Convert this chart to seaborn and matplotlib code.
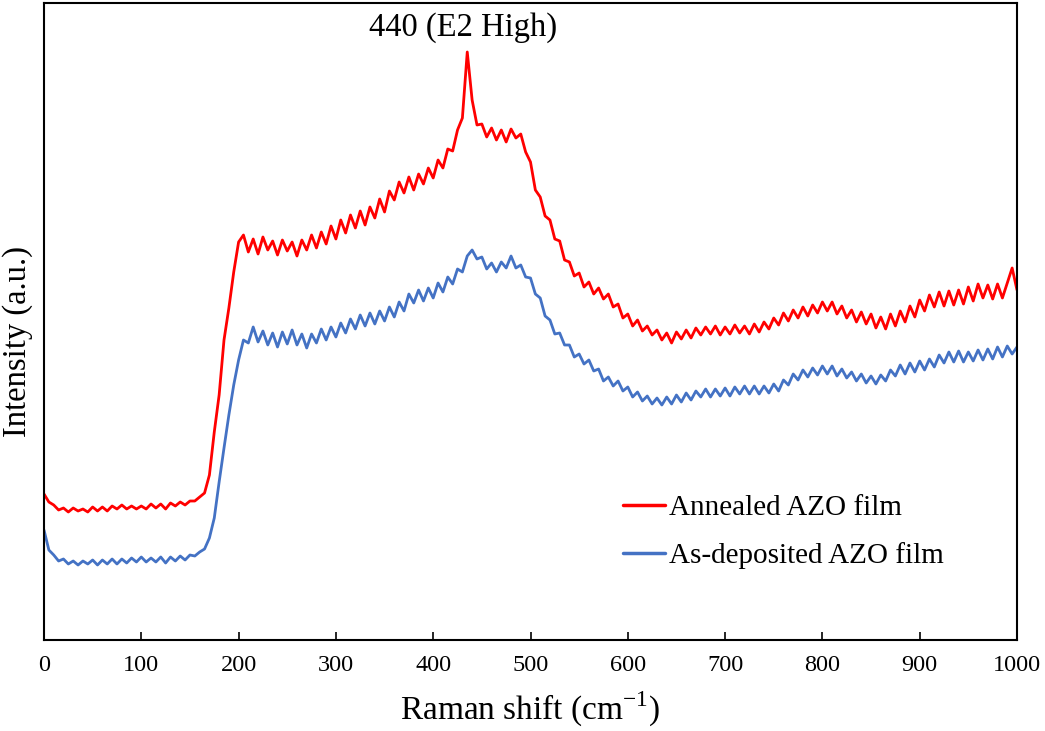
import numpy as np
import pandas as pd
import matplotlib
matplotlib.use("Agg")
import matplotlib.pyplot as plt
import seaborn as sns

# Raman shift (cm^-1), step 5
raman_shift = list(range(0, 1001, 5))

annealed = [
    146, 138, 135, 130, 132, 128, 132, 129, 131, 128, 133, 129, 133, 129, 134, 131, 135, 131, 134, 131,
    134, 131, 136, 132, 136, 131, 137, 134, 138, 135, 139, 139, 143, 147, 165, 208, 245, 300, 332, 368,
    398, 405, 388, 401, 386, 403, 390, 399, 385, 400, 389, 398, 384, 400, 390, 405, 392, 408, 396, 414,
    401, 420, 407, 425, 412, 429, 415, 433, 422, 441, 428, 449, 440, 458, 447, 463, 450, 466, 456, 472,
    462, 480, 472, 491, 489, 510, 522, 588, 540, 515, 516, 503, 512, 500, 510, 498, 511, 502, 506, 488,
    478, 450, 443, 424, 420, 401, 399, 380, 378, 364, 367, 353, 358, 346, 352, 341, 346, 333, 336, 322,
    326, 314, 320, 309, 314, 305, 310, 300, 307, 297, 308, 301, 310, 302, 312, 305, 313, 306, 314, 305,
    313, 306, 315, 307, 314, 306, 316, 308, 318, 311, 322, 315, 327, 319, 330, 322, 333, 324, 335, 327,
    338, 329, 338, 326, 334, 322, 330, 318, 328, 316, 326, 312, 323, 311, 326, 314, 329, 318, 334, 323,
    340, 329, 345, 333, 348, 334, 349, 335, 350, 336, 353, 339, 356, 342, 355, 341, 356, 342, 357, 372,
    350,
]

as_deposited = [
    110, 90, 85, 79, 81, 76, 79, 75, 79, 76, 80, 75, 80, 76, 81, 76, 81, 77, 82, 78,
    83, 78, 82, 78, 83, 77, 83, 79, 84, 80, 85, 84, 88, 91, 102, 122, 158, 192, 225, 255,
    280, 300, 297, 313, 298, 309, 295, 307, 293, 308, 296, 310, 295, 306, 292, 306, 297, 311, 300, 313,
    303, 317, 307, 321, 311, 325, 314, 327, 316, 329, 319, 333, 323, 338, 329, 346, 337, 350, 339, 352,
    342, 357, 348, 363, 356, 371, 368, 384, 390, 381, 383, 371, 377, 368, 378, 372, 384, 372, 375, 363,
    362, 346, 342, 324, 320, 306, 307, 295, 295, 283, 286, 276, 280, 269, 271, 259, 263, 254, 259, 249,
    253, 243, 248, 239, 244, 236, 242, 235, 243, 236, 245, 238, 247, 240, 249, 243, 251, 243, 251, 244,
    252, 244, 253, 246, 254, 246, 254, 246, 254, 247, 256, 249, 260, 255, 266, 260, 270, 263, 272, 265,
    274, 266, 274, 264, 271, 262, 268, 259, 266, 257, 264, 256, 265, 259, 270, 264, 275, 266, 277, 268,
    279, 270, 281, 273, 285, 277, 288, 278, 289, 278, 288, 279, 290, 280, 291, 281, 293, 283, 294, 286,
    293,
]

series_names = ["Annealed AZO film", "As-deposited AZO film"]
series_colors = ["#FF0000", "#4472C4"]

df = pd.concat([
    pd.DataFrame({"shift": raman_shift, "intensity": annealed, "series": series_names[0]}),
    pd.DataFrame({"shift": raman_shift, "intensity": as_deposited, "series": series_names[1]}),
], ignore_index=True)

sns.set_theme(style="white")
plt.rcParams["font.family"] = ["Liberation Serif", "DejaVu Serif"]
plt.rcParams["mathtext.fontset"] = "custom"
plt.rcParams["mathtext.rm"] = "Liberation Serif"
plt.rcParams["text.color"] = "black"
plt.rcParams["axes.labelcolor"] = "black"

fig = plt.figure(figsize=(10.45, 7.31), dpi=100)
ax = fig.add_axes([44 / 1045, 1 - 640 / 731, (1017 - 44) / 1045, (640 - 3) / 731])

sns.lineplot(data=df, x="shift", y="intensity", hue="series",
             palette=dict(zip(series_names, series_colors)),
             linewidth=2.0, ax=ax, sort=False, estimator=None)

ax.set_xlim(0, 1000)
ax.set_ylim(0, 637)
ax.set_xticks(range(0, 1001, 100))
ax.set_yticks([])
ax.tick_params(axis="x", direction="in", length=6, width=1.2, labelsize=17.5,
               pad=11, bottom=True, colors="black", labelcolor="black")
for sp in ax.spines.values():
    sp.set_color("black")
    sp.set_linewidth(1.5)

ax.set_xlabel(r"Raman shift (cm$^{\mathregular{-1}}$)", fontsize=24, labelpad=10, color="black")
ax.set_ylabel("Intensity (a.u.)", fontsize=23.5, color="black")
ax.yaxis.set_label_coords(-0.0115, 0.468)

ax.text(431, 612, "440 (E2 High)", ha="center", va="center", fontsize=23.5, color="black")

leg = ax.legend(loc="upper left", bbox_to_anchor=(0.583, 0.246), frameon=False,
                fontsize=21, handlelength=1.45, handletextpad=0.12, labelspacing=0.72,
                borderaxespad=0)
for text in leg.get_texts():
    text.set_color("black")
for line in leg.get_lines():
    line.set_linewidth(2.5)

fig.savefig("out.png", dpi=100)
